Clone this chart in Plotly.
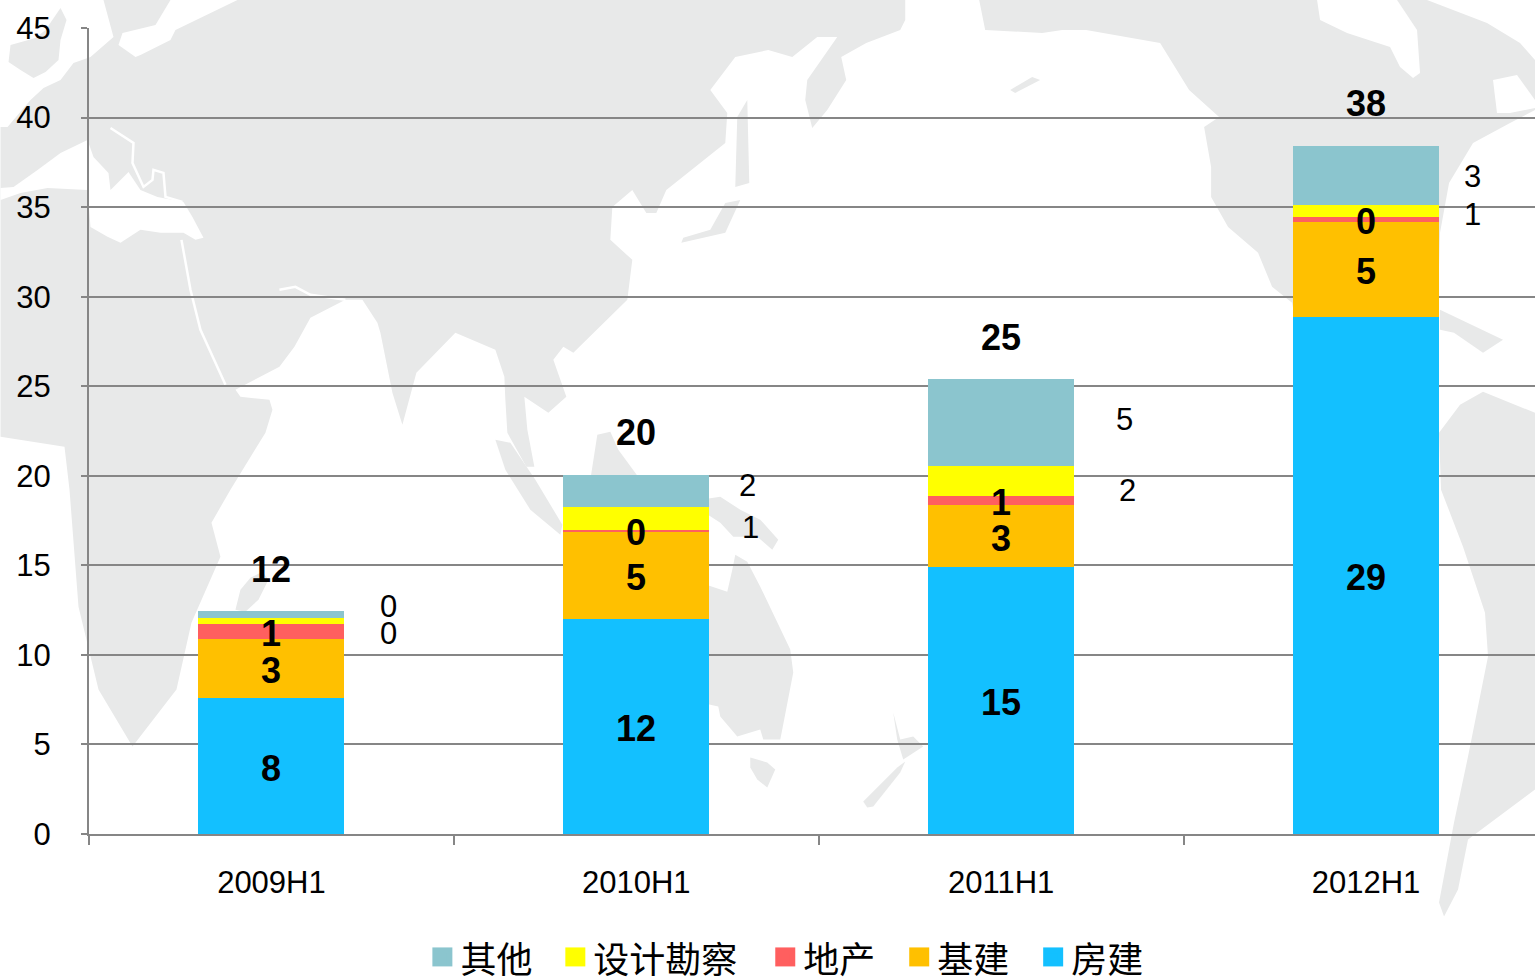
import plotly.graph_objects as go

# ---------- data ----------
periods = ["2009H1", "2010H1", "2011H1", "2012H1"]
fangjian = [7.58, 11.99, 14.89, 28.84]   # 房建
jijian = [3.29, 4.89, 3.46, 5.34]        # 基建
dichan = [0.85, 0.08, 0.54, 0.28]        # 地产
sheji = [0.32, 1.29, 1.63, 0.67]         # 设计勘察
qita = [0.41, 1.82, 4.88, 3.29]          # 其他
totals = [12.45, 20.07, 25.40, 38.42]
y_ticks = [0, 5, 10, 15, 20, 25, 30, 35, 40, 45]

# ---------- page geometry ----------
W, H = 1535, 978
L, R, T, B = 88.5, 0, 28, 143.5
PW, PH = W - L - R, H - T - B


def px(x):
    return (x - L) / PW


def py(y):
    return (H - B - y) / PH


# ---------- decorative background map (page pixels) ----------
LAND = "#E8E9E9"
land = [
    # Eurasia + Africa
    [(103, 0), (905, 0), (905, 20), (900, 30), (866, 43), (841, 57), (846, 80), (827, 110), (812, 128), (805, 100),
     (807, 80), (837, 37), (817, 37), (792, 57), (768, 50), (735, 57), (710, 90), (727, 113), (725, 143), (666, 190),
     (656, 213), (646, 213), (632, 190), (612, 207), (610, 240), (632, 260), (627, 300), (573, 353), (563, 347),
     (553, 360), (566, 397), (548, 413), (524, 397), (527, 430), (534, 467), (526, 467), (507, 433), (505, 400),
     (504, 377), (495, 350), (455, 333), (416, 373), (402, 425), (392, 393), (380, 333), (377, 323), (362, 300),
     (345, 300), (310, 318), (294, 347), (279, 367), (235, 390), (240, 397), (269, 400), (272, 410), (265, 433),
     (230, 490), (211, 523), (220, 557), (191, 623), (176, 690), (132, 747), (98, 690), (78, 607), (69, 490),
     (64, 447), (0, 437), (0, 127), (7, 127), (30, 100), (43, 88), (60, 80), (73, 63), (90, 57), (113, 37)],
    # north-west islands
    [(10, 45), (35, 38), (45, 30), (60, 8), (66, 20), (60, 40), (58, 60), (45, 72), (33, 78), (20, 70), (8, 62)],
    # Madagascar
    [(262, 572), (268, 580), (258, 600), (245, 612), (235, 610), (240, 590), (250, 578)],
    # Sumatra, Borneo, Japan, Sakhalin
    [(495, 440), (510, 443), (535, 480), (562, 525), (560, 535), (530, 510), (505, 470)],
    [(590, 480), (597, 435), (610, 432), (618, 450), (640, 480)],
    [(681, 243), (725, 233), (740, 200), (725, 203), (710, 230), (683, 238)],
    [(735, 187), (749, 183), (747, 100), (737, 117)],
    # Papua, Australia, Tasmania, New Zealand
    [(700, 500), (720, 497), (740, 510), (760, 520), (778, 540), (772, 550), (757, 537), (733, 537), (720, 523),
     (700, 510)],
    [(735, 555), (747, 562), (760, 587), (790, 650), (793, 673), (782, 730), (780, 740), (763, 740), (760, 730),
     (737, 737), (720, 717), (718, 707), (700, 703), (700, 583), (727, 592), (732, 570)],
    [(750, 758), (767, 763), (775, 770), (767, 788), (757, 780), (750, 768)],
    [(863, 802), (897, 768), (905, 762), (900, 773), (873, 807), (867, 808)],
    [(893, 713), (900, 740), (913, 737), (923, 747), (903, 760), (897, 740)],
    # North America
    [(979, 0), (985, 30), (1042, 33), (1062, 30), (1086, 30), (1160, 43), (1189, 90), (1219, 117), (1204, 127),
     (1211, 167), (1211, 197), (1228, 227), (1258, 253), (1272, 287), (1292, 303), (1295, 320), (1400, 330),
     (1438, 300), (1440, 233), (1449, 183), (1473, 143), (1510, 123), (1535, 110), (1535, 60), (1520, 43),
     (1487, 23), (1427, 0)],
    [(1010, 90), (1032, 77), (1040, 80), (1015, 93)],
    # Caribbean, South America
    [(1440, 310), (1503, 340), (1483, 353), (1454, 333), (1440, 330)],
    [(1483, 392), (1535, 413), (1535, 790), (1468, 840), (1458, 890), (1444, 917), (1439, 903), (1454, 823),
     (1468, 757), (1488, 657), (1485, 613), (1463, 547), (1441, 490), (1439, 433), (1460, 405)],
]
water = [
    # Baltic / Barents
    [(237, 0), (175, 30), (170, 40), (140, 55), (135, 57), (118, 45), (122, 33), (155, 25), (170, 0)],
    # Mediterranean
    [(87, 140), (93, 157), (108, 173), (110, 190), (128, 172), (140, 190), (157, 197), (183, 202), (192, 217),
     (203, 238), (195, 240), (183, 233), (160, 233), (140, 230), (120, 243), (107, 237), (90, 227), (87, 190),
     (47, 188), (20, 193), (0, 200), (0, 188), (13, 187), (37, 170), (60, 153)],
    # Hudson Bay
    [(1317, 0), (1320, 20), (1347, 33), (1390, 47), (1400, 67), (1413, 78), (1420, 73), (1417, 30), (1397, 0)],
    # Gulf of St Lawrence
    [(1493, 80), (1517, 75), (1535, 100), (1535, 108), (1510, 113), (1497, 113)],
]
coast_lines = [
    [(110, 128), (133, 143), (132, 163), (143, 187), (152, 180), (153, 170), (163, 173), (165, 197), (182, 202)],
    [(181, 240), (190, 290), (200, 330), (225, 385)],
    [(279, 290), (295, 287), (310, 295), (345, 300)],
]


def svg(points, closed=True):
    body = " ".join(("M" if i == 0 else "L") + f"{px(x):.5f},{py(y):.5f}" for i, (x, y) in enumerate(points))
    return body + (" Z" if closed else "")


shapes = []
for poly in land:
    shapes.append(dict(type="path", path=svg(poly), xref="paper", yref="paper", layer="below",
                       fillcolor=LAND, line=dict(width=0)))
for poly in water:
    shapes.append(dict(type="path", path=svg(poly), xref="paper", yref="paper", layer="below",
                       fillcolor="white", line=dict(width=0)))
for poly in coast_lines:
    shapes.append(dict(type="path", path=svg(poly, False), xref="paper", yref="paper", layer="below",
                       line=dict(color="white", width=2.5)))

# ---------- bars ----------
stack = [
    ("房建", fangjian, "#13C0FF", "legend5", 1053),
    ("基建", jijian, "#FFC000", "legend4", 919),
    ("地产", dichan, "#FF5F5F", "legend3", 785),
    ("设计勘察", sheji, "#FFFF00", "legend2", 575),
    ("其他", qita, "#8BC5CE", "legend", 442),
]
fig = go.Figure()
for name, vals, color, leg, _ in stack:
    fig.add_bar(x=periods, y=vals, name=name, marker=dict(color=color, line=dict(width=0)), legend=leg,
                showlegend=True, hoverinfo="x+y+name")

SANS = "Liberation Sans"
annotations = []
base = [0, 0, 0, 0]
side_dx = {"设计勘察": [117, 114, 126, 106], "其他": [117, 111, 123, 106]}
side_dy = {"设计勘察": [-12, -9, -9.5, -4], "其他": [8, 5, 3, -1]}
for name, vals, *_ in stack:
    for i, v in enumerate(vals):
        ann = dict(x=periods[i], y=base[i] + v / 2, text=str(round(v)), showarrow=False,
                   xanchor="center", yanchor="middle")
        if name in side_dx:
            ann.update(xshift=side_dx[name][i], yshift=side_dy[name][i],
                       font=dict(family=SANS, size=31, color="black"))
        else:
            ann.update(yshift=-2, font=dict(family=SANS, size=36, color="black"), text=f"<b>{round(v)}</b>")
        annotations.append(ann)
        base[i] += v
for p, t in zip(periods, totals):
    annotations.append(dict(x=p, y=t, yshift=42, text=f"<b>{round(t)}</b>", showarrow=False,
                            xanchor="center", yanchor="middle",
                            font=dict(family=SANS, size=36, color="black")))

fig.update_layout(
    width=W, height=H, autosize=False, showlegend=True,
    margin=dict(l=L, r=R, t=T, b=B, pad=0, autoexpand=False),
    paper_bgcolor="white", plot_bgcolor="rgba(0,0,0,0)",
    barmode="stack", bargap=0.6,
    annotations=annotations,
    font=dict(family=SANS, size=31, color="black"),
    xaxis=dict(type="category", categoryorder="array", categoryarray=periods, range=[-0.5, -0.5 + PW / 365],
               showgrid=False, showline=True, linecolor="#868686", linewidth=2,
               tickson="boundaries", ticks="outside", ticklen=9, tickwidth=1.5, tickcolor="#868686",
               ticklabelstandoff=20, tickfont=dict(family=SANS, size=31, color="black")),
    yaxis=dict(range=[0, 45], tickvals=y_ticks, showgrid=True, gridcolor="#868686", gridwidth=2,
               showline=True, linecolor="#868686", linewidth=2, zeroline=False,
               ticks="outside", ticklen=6, tickwidth=1.5, tickcolor="#868686",
               ticklabelstandoff=24, tickfont=dict(family=SANS, size=31, color="black")),
)

# One native legend per entry so every swatch sits at its place in the row;
# a rectangle under each native swatch brings it to the reference's swatch size.
for name, vals, color, leg, sw_x in stack:
    fig.layout[leg] = dict(x=px(sw_x - 22), y=py(960), xanchor="left", yanchor="middle",
                           bgcolor="rgba(0,0,0,0)", borderwidth=0,
                           font=dict(family="Noto Sans CJK SC", size=36, color="black"))
    shapes.append(dict(type="rect", xref="paper", yref="paper", layer="above",
                       x0=px(sw_x - 10), x1=px(sw_x + 10), y0=py(967), y1=py(948),
                       fillcolor=color, line=dict(width=0)))
fig.update_layout(shapes=shapes)

fig.write_html("out.html", config=dict(displayModeBar=False),
               post_script="document.body.style.margin='0';document.body.style.overflow='hidden';")
